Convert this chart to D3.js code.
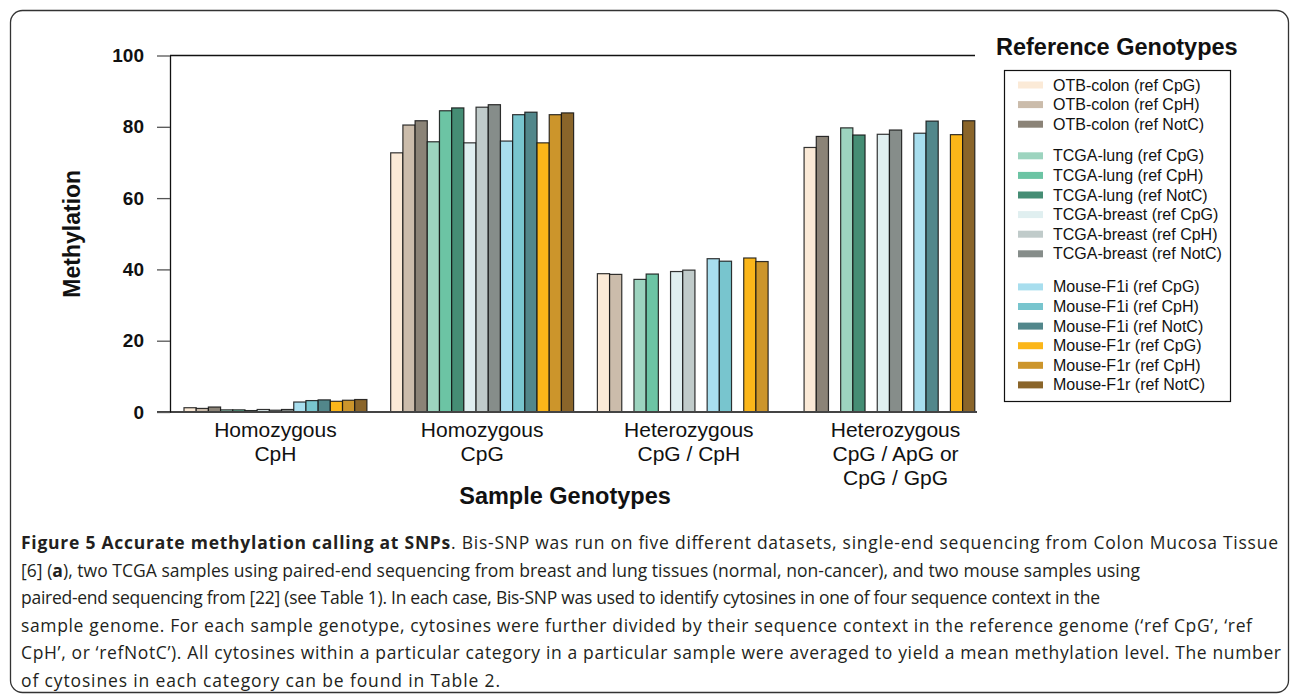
<!DOCTYPE html>
<html>
<head>
<meta charset="utf-8">
<script src="https://cdn.jsdelivr.net/npm/d3@7"></script>
<style>
  body { margin: 0; background: #fff; }
  text { font-family: "Liberation Sans", Arial, sans-serif; }
  .caption { font-family: "Open Sans", sans-serif; font-size: 17.5px; fill: #231f20; }
</style>
</head>
<body>
<div id="chart"></div>
<script>
// sample genotype categories (x groups)
const categories = ['homCpH', 'homCpG', 'hetCpH', 'hetApG'];
const categoryLabels = [
  ['Homozygous', 'CpH'],
  ['Homozygous', 'CpG'],
  ['Heterozygous', 'CpG / CpH'],
  ['Heterozygous', 'CpG / ApG or', 'CpG / GpG']
];

// reference genotype series (legend order)
const seriesNames = [
  'OTB-colon (ref CpG)', 'OTB-colon (ref CpH)', 'OTB-colon (ref NotC)',
  'TCGA-lung (ref CpG)', 'TCGA-lung (ref CpH)', 'TCGA-lung (ref NotC)',
  'TCGA-breast (ref CpG)', 'TCGA-breast (ref CpH)', 'TCGA-breast (ref NotC)',
  'Mouse-F1i (ref CpG)', 'Mouse-F1i (ref CpH)', 'Mouse-F1i (ref NotC)',
  'Mouse-F1r (ref CpG)', 'Mouse-F1r (ref CpH)', 'Mouse-F1r (ref NotC)'
];
const seriesColors = [
  '#fbead7', '#cbbcab', '#8b8377',
  '#9dd4bf', '#6cc4a4', '#458d74',
  '#e0eff0', '#c0cbca', '#868d8a',
  '#a8deee', '#78c5ce', '#52878b',
  '#fbb619', '#cc952b', '#8a652a'
];

// mean methylation per category, one value per series (null = not shown)
const homCpHValues = [1.2, 1.0, 1.4, 0.6, 0.6, 0.4, 0.7, 0.5, 0.7, 2.8, 3.2, 3.4, 3.0, 3.3, 3.5];
const homCpGValues = [72.7, 80.5, 81.7, 75.8, 84.5, 85.3, 75.5, 85.5, 86.2, 76.0, 83.4, 84.1, 75.5, 83.4, 83.9];
const hetCpHValues = [38.8, 38.6, null, 37.2, 38.7, null, 39.4, 39.8, null, 43.0, 42.3, null, 43.2, 42.2, null];
const hetApGValues = [74.2, null, 77.3, 79.7, null, 77.7, 77.9, null, 79.1, 78.2, null, 81.6, 77.8, null, 81.7];
const valuesByCategory = [homCpHValues, homCpGValues, hetCpHValues, hetApGValues];

const yTicks = [0, 20, 40, 60, 80, 100];

// caption lines: [text, bold]
const captionLines = [
  [['Figure 5 Accurate methylation calling at SNPs', true], ['. Bis-SNP was run on five different datasets, single-end sequencing from Colon Mucosa Tissue', false]],
  [['[6] (', false], ['a', true], ['), two TCGA samples using paired-end sequencing from breast and lung tissues (normal, non-cancer), and two mouse samples using', false]],
  [['paired-end sequencing from [22] (see Table 1). In each case, Bis-SNP was used to identify cytosines in one of four sequence context in the', false]],
  [['sample genome. For each sample genotype, cytosines were further divided by their sequence context in the reference genome (\u2018ref CpG\u2019, \u2018ref', false]],
  [['CpH\u2019, or \u2018refNotC\u2019). All cytosines within a particular category in a particular sample were averaged to yield a mean methylation level. The number', false]],
  [['of cytosines in each category can be found in Table 2.', false]]
];
// measured line widths of the caption in the figure
const captionWidths = [1257, 1119, 1079, 1231, 1260, 479];

const W = 1290, H = 694;
const svg = d3.select('#chart').append('svg')
    .attr('width', W)
    .attr('height', H);

// figure frame
svg.append('rect')
    .attr('x', 10.5).attr('y', 10.5)
    .attr('width', 1278).attr('height', 682)
    .attr('rx', 12)
    .attr('fill', 'none')
    .attr('stroke', '#333')
    .attr('stroke-width', 1.3);

const x0 = d3.scaleBand()
    .domain(categories)
    .range([184, 987])
    .paddingInner(0.115)
    .paddingOuter(0);
const x1 = d3.scaleBand()
    .domain(d3.range(seriesNames.length))
    .range([0, x0.bandwidth()]);
const y = d3.scaleLinear().domain([0, 100]).range([412, 55.5]);

// bars: within each sample triplet, shown bars sit side by side from the left
const bars = [];
valuesByCategory.forEach((vals, ci) => {
  for (let t = 0; t < vals.length; t += 3) {
    let slot = 0;
    for (let k = 0; k < 3; k++) {
      const v = vals[t + k];
      if (v == null) continue;
      bars.push({cat: categories[ci], series: t + k, slot: t + slot, value: v});
      slot++;
    }
  }
});

svg.append('g').selectAll('rect')
  .data(bars)
  .join('rect')
    .attr('x', d => x0(d.cat) + x1(d.slot))
    .attr('y', d => y(d.value))
    .attr('width', x1.bandwidth())
    .attr('height', d => y(0) - y(d.value))
    .attr('fill', d => seriesColors[d.series])
    .attr('stroke', '#111')
    .attr('stroke-opacity', 0.85)
    .attr('stroke-width', 1.2);

// top line and baseline
svg.append('line')
    .attr('x1', 170).attr('x2', 975)
    .attr('y1', y(100)).attr('y2', y(100))
    .attr('stroke', '#111').attr('stroke-width', 1.6);
svg.append('line')
    .attr('x1', 157).attr('x2', 977)
    .attr('y1', y(0)).attr('y2', y(0))
    .attr('stroke', '#444').attr('stroke-width', 2);

// y axis
const yAxis = svg.append('g')
    .attr('transform', 'translate(170,0)')
    .call(d3.axisLeft(y).tickValues(yTicks).tickSize(13).tickSizeOuter(0).tickPadding(13));
yAxis.select('.domain').attr('stroke', '#111').attr('stroke-width', 1.3);
yAxis.selectAll('.tick line').attr('stroke', '#555').attr('stroke-width', 1.3);
yAxis.selectAll('.tick text')
    .attr('font-family', '"Liberation Sans", Arial, sans-serif')
    .attr('font-size', 19)
    .attr('font-weight', 'bold')
    .attr('fill', '#111');

svg.append('text')
    .attr('transform', `translate(80,${(y(0) + y(100)) / 2}) rotate(-90)`)
    .attr('text-anchor', 'middle')
    .attr('font-size', 23)
    .attr('font-weight', 'bold')
    .attr('fill', '#111')
    .text('Methylation');

// category labels
const catG = svg.append('g').selectAll('text')
  .data(categories)
  .join('text')
    .attr('text-anchor', 'middle')
    .attr('font-size', 21)
    .attr('fill', '#111');
catG.each(function(d, i) {
  const cx = x0(d) + x0.bandwidth() / 2;
  d3.select(this).selectAll('tspan')
    .data(categoryLabels[i])
    .join('tspan')
      .attr('x', cx)
      .attr('y', (s, j) => 437 + j * 24)
      .text(s => s);
});

svg.append('text')
    .attr('x', 565).attr('y', 504)
    .attr('text-anchor', 'middle')
    .attr('font-size', 23.5)
    .attr('font-weight', 'bold')
    .attr('fill', '#111')
    .text('Sample Genotypes');

// legend
svg.append('text')
    .attr('x', 996).attr('y', 55)
    .attr('font-size', 23.5)
    .attr('font-weight', 'bold')
    .attr('fill', '#111')
    .text('Reference Genotypes');
svg.append('rect')
    .attr('x', 1004.5).attr('y', 70.5)
    .attr('width', 226).attr('height', 331)
    .attr('fill', 'none')
    .attr('stroke', '#111')
    .attr('stroke-width', 1.2);
const rowY = i => 85 + i * 19.6 + (i >= 3 ? 12 : 0) + (i >= 9 ? 13.5 : 0);
const leg = svg.append('g').selectAll('g')
  .data(seriesNames)
  .join('g')
    .attr('transform', (d, i) => `translate(0,${rowY(i)})`);
leg.append('rect')
    .attr('x', 1018).attr('y', -3.5)
    .attr('width', 25).attr('height', 7)
    .attr('fill', (d, i) => seriesColors[i]);
leg.append('text')
    .attr('x', 1053).attr('y', 5.5)
    .attr('font-size', 16)
    .attr('fill', '#111')
    .text(d => d);

// caption
const cap = svg.append('g').selectAll('text')
  .data(captionLines)
  .join('text')
    .attr('class', 'caption')
    .attr('x', 21)
    .attr('y', (d, i) => 549 + i * 27.5)
    .attr('textLength', (d, i) => captionWidths[i])
    .attr('lengthAdjust', 'spacing');
cap.selectAll('tspan')
  .data(d => d)
  .join('tspan')
    .attr('font-weight', d => d[1] ? 'bold' : null)
    .text(d => d[0]);
</script>
</body>
</html>
